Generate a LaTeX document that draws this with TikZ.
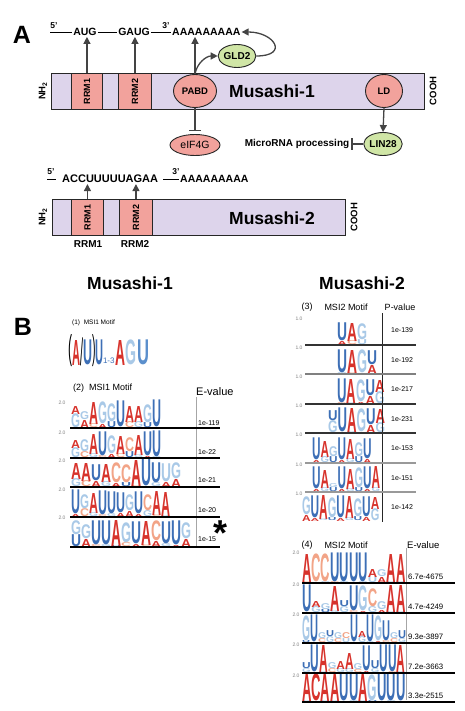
\documentclass[tikz,border=0pt]{standalone}
\usepackage{fontspec}
\setmainfont{Liberation Sans}
\usepackage{graphicx}
\usetikzlibrary{shapes.geometric, arrows.meta, positioning}

\definecolor{barfill}{HTML}{DDD4EB}
\definecolor{rrmfill}{HTML}{F2A29C}
\definecolor{gldfill}{HTML}{D0E6A6}
\definecolor{linegray}{HTML}{444444}
\definecolor{lr}{HTML}{D7332C}
\definecolor{lb}{HTML}{3D6FB6}
\definecolor{lg}{HTML}{A9C9E7}
\definecolor{lo}{HTML}{F2A487}
\definecolor{lm}{HTML}{5B8FCC}

\newcommand{\fsz}[1]{\fontsize{#1}{#1}\selectfont}

% one row of a sequence logo: name, x0, base y, column width, columns (top/col/h/bottom/col/h)
\newcommand{\logorow}[5]{
  \foreach \ta/\tc/\th/\ba/\bc/\bh [count=\i] in {#5} {
    \pgfmathsetmacro{\xx}{#2+(\i-1)*#4}
    \node[logochar] (#1b\i) at (\xx,#3) {\resizebox*{#4pt}{\bh pt}{\color{\bc}\ba}};
    \node[logochar] (#1t\i) at (\xx,#3+\bh) {\resizebox*{#4pt}{\th pt}{\color{\tc}\ta}};
  }}

\tikzset{
  protbar/.style={rectangle, draw=black!85, line width=0.9pt, fill=barfill, inner sep=0pt, minimum height=36pt, anchor=north west},
  rrmbox/.style={rectangle, draw=black!85, line width=0.9pt, fill=rrmfill, inner sep=0pt, minimum height=36pt, anchor=north west, font=\bfseries\fsz{9}},
  domblob/.style={ellipse, draw=black!85, line width=0.9pt, fill=rrmfill, inner sep=0pt, font=\bfseries\fsz{9.5}},
  partner/.style={ellipse, draw=black!85, line width=0.9pt, fill=gldfill, inner sep=0pt, font=\bfseries\fsz{10}},
  seq/.style={font=\bfseries\fsz{10.5}, inner sep=1pt},
  prime/.style={font=\bfseries\fsz{8.5}, inner sep=0pt},
  term/.style={rotate=90, font=\bfseries\fsz{9.5}, inner sep=0pt},
  bartitle/.style={font=\bfseries\fsz{17.5}},
  tag/.style={font=\bfseries\fsz{25}},
  note/.style={font=\bfseries\fsz{10}, inner sep=1pt},
  rna/.style={draw=black, line width=0.8pt},
  arr/.style={draw=linegray, line width=1.3pt, -{Triangle[length=7pt,width=7pt]}},
  inh/.style={draw=linegray, line width=1.3pt, -{Bar[width=12pt]}},
  logochar/.style={anchor=south west, inner sep=0pt, outer sep=0pt, font=\bfseries},
  motiflbl/.style={font=\fsz{9}, inner sep=0pt},
  evalue/.style={font=\fsz{7}, anchor=west, inner sep=0pt},
  tick/.style={font=\fsz{5}, text=gray, inner sep=0pt},
  sepline/.style={draw=black, line width=1.6pt}
}

\begin{document}
\begin{tikzpicture}[x=1pt, y=1pt]
  \useasboundingbox (0,0) rectangle (464,-711);

  % ---- panel A, Musashi-1
  \node[tag] (tagA) at (22,-35) {A};
  \coordinate (fiveA) at (50,-32);
  \node[prime] (fiveAlbl) at (54,-26) {5'};
  \node[seq] (aug) at (85,-32) {AUG};
  \node[seq] (gaug) at (134,-32) {GAUG};
  \node[seq, anchor=west] (polyA1) at (171,-32) {AAAAAAAAA};
  \node[prime] (threeAlbl) at (166,-26) {3'};
  \draw[rna] (fiveA) -- (aug);
  \draw[rna] (aug) -- (gaug);
  \draw[rna] (gaug) -- (polyA1);

  \node[protbar, minimum width=373pt] (msi1) at (51,-73) {};
  \node[rrmbox, minimum width=31pt] (rrm1) at (71,-73) {\rotatebox{90}{RRM1}};
  \node[rrmbox, minimum width=33pt] (rrm2) at (118,-73) {\rotatebox{90}{RRM2}};
  \node[domblob, minimum width=43pt, minimum height=33pt] (pabd) at (195,-91) {PABD};
  \node[bartitle] (msi1lbl) at (272,-91) {Musashi-1};
  \node[domblob, minimum width=37pt, minimum height=33pt] (ld) at (384,-91) {LD};
  \node[term] (nh2a) at (43,-91) {NH\textsubscript{2}};
  \node[term] (cooha) at (433,-91) {COOH};

  \node[partner, minimum width=33pt, minimum height=23pt] (gld2) at (237,-56) {GLD2};
  \node[domblob, minimum width=50pt, minimum height=21pt, font=\fsz{10.5}] (eif4g) at (195,-145) {eIF4G};
  \node[partner, minimum width=32pt, minimum height=23pt] (lin28) at (383,-144) {LIN28};
  \node[note] (mirna) at (297,-144) {MicroRNA processing};

  \draw[arr] (rrm1.north) -- (rrm1.north |- aug.south);
  \draw[arr] (rrm2.north) -- (rrm2.north |- gaug.south);
  \draw[arr] (pabd.north) -- (pabd.north |- polyA1.south);
  \draw[arr] (pabd.north) to[out=80, in=180] (gld2.west);
  \draw[arr] (gld2.east) to[out=0, in=0, looseness=3] (polyA1.east);
  \draw[inh, shorten >=3pt] (pabd.south) -- (eif4g.north);
  \draw[arr] (ld.south) -- (lin28.north);
  \draw[inh, shorten >=1pt] (lin28.west) -- (mirna.east);

  % ---- panel A, Musashi-2
  \coordinate (fiveB) at (47,-179);
  \coordinate (fiveBend) at (56,-179);
  \node[prime] (fiveBlbl) at (51,-172) {5'};
  \node[seq, anchor=west, font=\bfseries\fsz{11}] (acc) at (61,-179) {ACCUUUUUAGAA};
  \coordinate (threeB) at (163,-179);
  \node[prime] (threeBlbl) at (176,-172) {3'};
  \node[seq, anchor=west] (polyA2) at (179,-179) {AAAAAAAAA};
  \draw[rna] (fiveB) -- (fiveBend);
  \draw[rna] (threeB) -- (polyA2);

  \node[protbar, minimum width=293pt] (msi2) at (52,-199) {};
  \node[rrmbox, minimum width=32pt] (rrm3) at (71,-199) {\rotatebox{90}{RRM1}};
  \node[rrmbox, minimum width=33pt] (rrm4) at (119,-199) {\rotatebox{90}{RRM2}};
  \node[bartitle] (msi2lbl) at (272,-218) {Musashi-2};
  \node[term] (nh2b) at (43,-217) {NH\textsubscript{2}};
  \node[term] (coohb) at (354,-217) {COOH};
  \node[note] (rrm3lbl) at (88,-244) {RRM1};
  \node[note] (rrm4lbl) at (135,-244) {RRM2};
  \draw[arr] (rrm3.north) -- (rrm3.north |- acc.south);
  \draw[arr] (rrm4.north) -- (rrm4.north |- acc.south);

  % ---- panel B
  \node[tag] (tagB) at (23,-327) {B};
  \node[bartitle] (headl) at (130,-283) {Musashi-1};
  \node[bartitle] (headr) at (362,-283) {Musashi-2};

  % (1) consensus motif
  \node[motiflbl, anchor=west, font=\fsz{6.5}] (lbl1) at (72,-323) {(1)~~MSI1 Motif};
  \node[logochar] (mo1) at (68,-367) {\resizebox*{4pt}{32pt}{\mdseries (}};
  \node[logochar] (mo2) at (72,-365) {\resizebox*{8pt}{25pt}{\color{lr}A}};
  \node[logochar] (mo3) at (80,-366) {\resizebox*{3pt}{28pt}{\mdseries /}};
  \node[logochar] (mo4) at (83,-365) {\resizebox*{9pt}{25pt}{\color{lb}U}};
  \node[logochar] (mo5) at (92,-367) {\resizebox*{3.5pt}{32pt}{\mdseries )}};
  \node[logochar] (mo6) at (95,-365) {\resizebox*{8pt}{25pt}{\color{lb}U}};
  \node[logochar, font=\mdseries\fsz{8}, text=lb] (mo7) at (103,-364) {1-3};
  \node[logochar] (mo8) at (115,-365) {\resizebox*{10pt}{25pt}{\color{lr}A}};
  \node[logochar] (mo9) at (125,-365) {\resizebox*{11pt}{25pt}{\color{lg}G}};
  \node[logochar] (mo10) at (137,-365) {\resizebox*{12pt}{25pt}{\color{lm}U}};

  % (2) MSI1 logos
  \node[motiflbl, anchor=west] (lbl2) at (73,-388) {(2)~~MSI1 Motif};
  \node[motiflbl, anchor=west, font=\fsz{11}] (evl) at (196,-392) {E-value};
  \logorow{ea}{71}{-428}{9}{A/lr/8/G/lg/14, G/lg/8/A/lr/8, A/lr/22/C/lo/4, G/lg/22/A/lr/4, G/lg/18/U/lb/6, U/lb/26/A/lr/1, A/lr/16/C/lo/6, A/lr/16/G/lg/6, G/lg/18/U/lb/5, U/lb/27/A/lr/1}
  \logorow{eb}{71}{-458}{9}{A/lr/8/G/lg/10, G/lg/12/C/lo/6, A/lr/20/G/lg/4, U/lb/24/C/lo/2, G/lg/18/A/lr/4, A/lr/18/C/lo/4, C/lo/14/U/lb/6, A/lr/20/G/lg/3, U/lb/24/A/lr/2, U/lb/26/G/lg/1}
  \logorow{ec}{71}{-487}{10}{A/lr/16/G/lg/8, A/lr/18/C/lo/6, U/lb/16/A/lr/6, A/lr/18/G/lg/5, C/lo/20/A/lr/4, C/lo/18/U/lb/4, A/lr/26/C/lo/1, U/lb/27/A/lr/1, U/lb/20/G/lg/4, U/lg/18/A/lr/5, G/lg/16/A/lr/8}
  \logorow{ed}{71}{-517}{9}{U/lb/24/A/lr/3, G/lg/14/C/lo/8, A/lr/20/G/lg/4, U/lb/24/C/lo/2, U/lb/22/G/lg/3, U/lb/20/A/lr/4, G/lg/16/A/lr/6, U/lb/22/A/lr/3, C/lo/16/G/lg/6, A/lr/24/C/lo/2, A/lr/24/G/lg/1}
  \logorow{ee}{71}{-547}{10}{G/lg/14/U/lb/12, G/lg/14/A/lr/8, U/lb/24/C/lo/2, U/lb/24/G/lg/2, A/lr/26/U/lb/1, G/lg/20/C/lo/4, U/lb/22/A/lr/3, A/lr/24/C/lo/2, C/lo/20/A/lr/6, U/lb/22/G/lg/3, U/lb/24/A/lr/2, G/lg/16/A/lr/8}
  \foreach \y [count=\k] in {403,433,461,490,518}
    \node[tick] (tl\k) at (62,-\y) {2.0};
  \draw[gray!70, line width=0.8pt] (196,-397) -- (196,-547);
  \foreach \y in {428,458,487,517,547}
    \draw[sepline] (70,-\y) -- (220,-\y);
  \node[evalue] (el1) at (198,-423) {1e-119};
  \node[evalue] (el2) at (198,-452) {1e-22};
  \node[evalue] (el3) at (198,-480) {1e-21};
  \node[evalue] (el4) at (198,-510) {1e-20};
  \node[evalue] (el5) at (198,-539) {1e-15};
  \node[font=\bfseries\fsz{36}, anchor=north, inner sep=0pt] (star) at (221,-521) {*};

  % (3) MSI2 logos
  \node[motiflbl] (lbl3a) at (307,-307) {(3)};
  \node[motiflbl] (lbl3b) at (346,-307) {MSI2 Motif};
  \node[motiflbl] (pvl) at (400,-307) {P-value};
  \logorow{pa}{337}{-345}{10}{U/lb/18/A/lr/4, A/lr/18/C/lo/4, G/lg/16/U/lg/5}
  \logorow{pb}{337}{-374}{10}{U/lb/23/G/lg/1, A/lr/23/C/lo/1, G/lg/23/A/lr/1, U/lb/14/A/lr/9}
  \logorow{pc}{337}{-404}{9.5}{U/lb/24/C/lo/1, A/lr/24/G/lg/1, G/lg/22/A/lr/2, U/lb/16/A/lr/8, A/lr/12/G/lg/12}
  \logorow{pd}{328}{-433}{9.5}{U/lb/10/G/lg/12, U/lb/24/A/lr/1, A/lr/24/G/lg/1, G/lg/23/A/lr/1, U/lb/16/A/lr/8, A/lr/14/G/lg/10}
  \logorow{pe}{312}{-463}{8.5}{U/lb/22/A/lr/3, A/lr/16/G/lg/6, G/lg/10/U/lb/6, U/lb/22/A/lr/3, A/lr/20/G/lg/4, G/lg/14/U/lb/6, U/lb/20/A/lr/4}
  \logorow{pf}{312}{-492}{8.5}{U/lb/22/A/lr/3, A/lr/18/G/lg/4, G/lg/4/U/lb/4, U/lb/22/A/lr/3, A/lr/20/G/lg/3, G/lg/20/U/lb/4, U/lb/22/A/lr/3, A/lr/22/G/lg/4}
  \logorow{pg}{302}{-521}{8.6}{G/lg/18/A/lr/6, U/lb/22/A/lr/3, A/lr/24/G/lg/2, G/lg/20/U/lb/3, U/lb/22/A/lr/3, A/lr/22/G/lg/3, G/lg/18/U/lb/4, U/lb/20/A/lr/4, A/lr/12/G/lg/12}
  \foreach \y [count=\k] in {319,348,377,406,435,465,494}
    \node[tick] (tp\k) at (299,-\y) {1.0};
  \draw[black!85, line width=1pt] (382,-313) -- (382,-522);
  \foreach \y/\c in {345/black!80, 374/gray, 404/black!80, 433/black!80, 463/gray!80, 492/gray!80}
    \draw[draw=\c, line width=1.2pt] (305,-\y) -- (416,-\y);
  \node[evalue] (pv1) at (391,-330) {1e-139};
  \node[evalue] (pv2) at (391,-360) {1e-192};
  \node[evalue] (pv3) at (391,-389) {1e-217};
  \node[evalue] (pv4) at (391,-419) {1e-231};
  \node[evalue] (pv5) at (391,-448) {1e-153};
  \node[evalue] (pv6) at (391,-478) {1e-151};
  \node[evalue] (pv7) at (391,-507) {1e-142};

  % (4) MSI2 logos
  \node[motiflbl] (lbl4a) at (307,-545) {(4)};
  \node[motiflbl] (lbl4b) at (346,-545) {MSI2 Motif};
  \node[motiflbl, anchor=west, font=\fsz{9.5}] (evr) at (407,-545) {E-value};
  \logorow{qa}{302}{-583}{9.4}{A/lr/28/C/lo/1, C/lo/28/A/lr/1, C/lo/28/G/lg/1, U/lb/29/C/lo/1, U/lb/29/G/lg/1, U/lb/29/A/lr/1, U/lb/29/G/lg/1, A/lr/8/U/lg/6, G/lg/7/A/lr/6, A/lr/28/G/lg/1, A/lr/28/G/lg/1}
  \logorow{qb}{302}{-613}{9.4}{U/lb/27/A/lr/1, A/lr/6/G/lg/6, G/lg/6/U/lb/3, A/lr/25/G/lg/2, U/lb/6/G/lg/6, U/lb/25/C/lo/2, G/lg/25/A/lr/2, C/lo/18/G/lg/6, G/lg/8/A/lr/3, A/lr/27/G/lg/1, A/lr/27/G/lg/1}
  \logorow{qc}{302}{-643}{8}{G/lg/25/U/lb/2, U/lb/27/A/lr/1, G/lg/6/C/lo/4, U/lb/6/G/lg/6, G/lg/6/C/lo/4, C/lo/6/U/lg/4, U/lb/27/A/lr/1, A/lr/6/G/lg/6, U/lb/27/G/lg/1, G/lg/25/A/lr/2, U/lb/20/C/lo/2, G/lg/6/C/lo/4, U/lb/8/G/lg/4}
  \logorow{qd}{302}{-673}{8.6}{U/lb/6/G/lg/4, U/lb/27/A/lr/1, A/lr/27/G/lg/1, G/lg/6/C/lo/4, A/lr/8/G/lg/4, A/lr/16/G/lg/4, G/lg/6/C/lo/3, U/lb/25/A/lr/2, U/lb/8/G/lg/4, U/lb/27/A/lr/1, U/lb/27/C/lo/1, A/lr/27/G/lg/1}
  \logorow{qe}{302}{-702}{9.4}{A/lr/27/G/lg/1, C/lr/27/A/lr/1, A/lr/27/G/lg/1, A/lr/27/G/lg/1, U/lb/27/A/lr/1, U/lb/27/G/lg/1, A/lr/27/G/lg/1, G/lg/26/U/lb/1, U/lb/27/A/lr/1, U/lb/27/G/lg/1, U/lb/27/A/lr/1}
  \foreach \y [count=\k] in {553,585,615,645,676}
    \node[tick] (tq\k) at (296,-\y) {2.0};
  \draw[gray!70, line width=0.8pt] (406,-548) -- (406,-700);
  \foreach \y in {583,613,643,673,702}
    \draw[sepline] (302,-\y) -- (455,-\y);
  \node[evalue, font=\fsz{7.8}] (ev1) at (408,-577) {6.7e-4675};
  \node[evalue, font=\fsz{7.8}] (ev2) at (408,-607) {4.7e-4249};
  \node[evalue, font=\fsz{7.8}] (ev3) at (408,-637) {9.3e-3897};
  \node[evalue, font=\fsz{7.8}] (ev4) at (408,-667) {7.2e-3663};
  \node[evalue, font=\fsz{7.8}] (ev5) at (408,-696) {3.3e-2515};
\end{tikzpicture}
\end{document}
